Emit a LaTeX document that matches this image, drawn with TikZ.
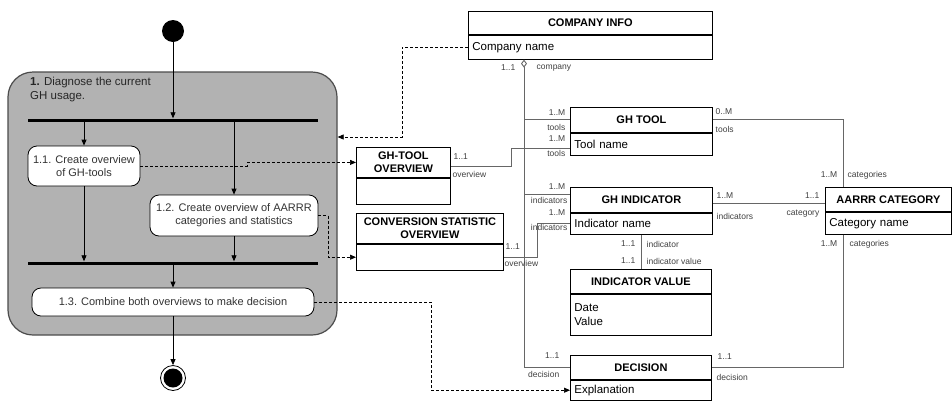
\documentclass[tikz,border=0pt]{standalone}
\usepackage{fontspec}
\setmainfont{Liberation Sans}
\usetikzlibrary{arrows.meta,positioning}

\begin{document}
\begin{tikzpicture}[x=1pt,y=-1pt,
  flow/.style={-{Triangle[length=6pt,width=5pt]}, line width=0.8pt},
  dep/.style={dash pattern=on 3pt off 2pt, -{Triangle[length=6pt,width=5pt]}, line width=0.7pt},
  er/.style={draw=black!60, line width=0.9pt},
  act/.style={draw, fill=white, rounded corners=9pt, align=center, inner sep=2pt, text=black!80, font=\fontsize{11}{13}\selectfont, line width=0.8pt},
  bar/.style={fill=black, inner sep=0pt, minimum width=290pt, minimum height=3pt},
  head/.style={draw, anchor=north west, align=center, inner sep=2pt, font=\bfseries\fontsize{11}{13}\selectfont, line width=0.8pt},
  body/.style={draw, align=left, inner sep=4pt, font=\fontsize{11.5}{14}\selectfont, line width=0.8pt},
  lab/.style={inner sep=0.5pt, text=black!75, font=\fontsize{8.5}{10}\selectfont}]
  \useasboundingbox (0,0) rectangle (952,400);

  \node[draw=black!70, fill=black!30, rounded corners=25pt, minimum width=329pt, minimum height=263pt, line width=1.2pt] (diag) at (172.5,203.5) {};
  \node[anchor=north west, align=left, inner sep=0pt, text=black!85, font=\fontsize{11.5}{14}\selectfont] (diagT) at (30,77) {\textbf{1.} Diagnose the current\\GH usage.};

  \node[circle, fill=black, minimum size=22pt, inner sep=0pt] (init) at (173,31) {};
  \node[bar] (fork) at (173,120) {};
  \node[act, minimum width=112pt, minimum height=40pt] (ovtools) at (84,166) {1.1. Create overview\\of GH-tools};
  \node[act, minimum width=168pt, minimum height=41pt] (ovstats) at (234,215.5) {1.2. Create overview of AARRR\\categories and statistics};
  \node[bar] (join) at (173,263) {};
  \node[act, minimum width=282pt, minimum height=28pt] (decide) at (173,302) {1.3. Combine both overviews to make decision};
  \node[circle, draw, fill=white, line width=0.8pt, minimum size=25pt, inner sep=0pt] (final) at (173,378) {};
  \node[circle, fill=black, minimum size=19pt, inner sep=0pt] (finalIn) at (final) {};

  \draw[flow] (init) -- (fork);
  \draw[flow] (ovtools.north |- fork.south) -- (ovtools.north);
  \draw[flow] (ovstats.north |- fork.south) -- (ovstats.north);
  \draw[flow] (ovtools.south) -- (ovtools.south |- join.north);
  \draw[flow] (ovstats.south) -- (ovstats.south |- join.north);
  \draw[flow] (join.south) -- (decide.north);
  \draw[flow] (decide.south) -- (final.north);

  \node[head, minimum width=244pt, minimum height=23pt] (companyH) at (468,11) {COMPANY INFO};
  \node[body, text width=236pt, minimum height=24pt, below=0pt of companyH] (companyA) {Company name};
  \node[head, minimum width=142pt, minimum height=25pt] (ghtoolH) at (570,107) {GH TOOL};
  \node[body, text width=134pt, minimum height=22pt, below=0pt of ghtoolH] (ghtoolA) {Tool name};
  \node[head, minimum width=142pt, minimum height=25pt] (indH) at (570,187) {GH INDICATOR};
  \node[body, text width=134pt, minimum height=21pt, below=0pt of indH] (indA) {Indicator name};
  \node[head, minimum width=126pt, minimum height=24pt] (aarrrH) at (825,187) {AARRR CATEGORY};
  \node[body, text width=118pt, minimum height=22pt, below=0pt of aarrrH] (aarrrA) {Category name};
  \node[head, minimum width=141pt, minimum height=24pt] (ivH) at (570,269) {INDICATOR VALUE};
  \node[body, text width=133pt, minimum height=41pt, below=0pt of ivH] (ivA) {Date\\Value};
  \node[head, minimum width=141pt, minimum height=24pt] (decisionH) at (570,355) {DECISION};
  \node[body, text width=133pt, minimum height=20pt, below=0pt of decisionH] (decisionA) {Explanation};
  \node[head, minimum width=94pt, minimum height=30pt] (ovtoolH) at (356,147) {GH-TOOL\\OVERVIEW};
  \node[body, text width=86pt, minimum height=26pt, below=0pt of ovtoolH] (ovtoolA) {};
  \node[head, minimum width=147pt, minimum height=30pt] (convH) at (356,213) {CONVERSION STATISTIC\\OVERVIEW};
  \node[body, text width=139pt, minimum height=26pt, below=0pt of convH] (convA) {};

  \coordinate (trunk) at (524,0);
  \draw[er, {Diamond[open,length=8pt,width=6pt]}-] (companyA.south -| trunk) |- (decisionH.west);
  \draw[er] (ghtoolH.west) -- (ghtoolH.west -| trunk);
  \draw[er] ([yshift=5.5pt]indH.west) -- ++(-46,0);
  \draw[er] ([yshift=-4pt]ovtoolH.east) -- ++(61,0) |- ([yshift=-4pt]ghtoolA.west);
  \draw[er] (convA.east) -- ++(34,0) |- (indA.west);
  \draw[er] (indA.south) -- (indA.south |- ivH.north);
  \draw[er] (ghtoolH.east) -| ([xshift=-45pt]aarrrH.north);
  \draw[er] ([yshift=-3.5pt]indH.east) -- ([yshift=-3.5pt]indH.east -| aarrrH.west);
  \draw[er] ([xshift=-45pt]aarrrA.south) |- (decisionH.east);

  \draw[dep] (companyA.west) -- ++(-66,0) |- ([yshift=66.5pt]diag.east);
  \draw[dep] (ovtools.east) -- ++(107,0) |- (ovtoolH.west);
  \draw[dep] (ovstats.east) -- ++(10,0) |- (convA.west);
  \draw[dep] (decide.east) -- ++(117,0) |- (decisionA.west);

  \node[lab, anchor=east] (cmpM) at (516,68) {1..1};
  \node[lab, anchor=west] (cmpR) at (536,68) {company};
  \node[lab, anchor=east] (toolM1) at (566,113) {1..M};
  \node[lab, anchor=east] (toolR1) at (566,127) {tools};
  \node[lab, anchor=east] (toolM2) at (566,139) {1..M};
  \node[lab, anchor=east] (toolR2) at (566,153) {tools};
  \node[lab, anchor=east] (indM1) at (566,187) {1..M};
  \node[lab, anchor=east] (indR1) at (568,200) {indicators};
  \node[lab, anchor=east] (indM2) at (566,213) {1..M};
  \node[lab, anchor=east] (indR2) at (568,227) {indicators};
  \node[lab, anchor=east] (ivM1) at (636,244) {1..1};
  \node[lab, anchor=west] (ivR1) at (646,244) {indicator};
  \node[lab, anchor=east] (ivM2) at (636,261) {1..1};
  \node[lab, anchor=west] (ivR2) at (646,261) {indicator value};
  \node[lab, anchor=west] (ovtM) at (453,157) {1..1};
  \node[lab, anchor=west] (ovtR) at (452,174) {overview};
  \node[lab, anchor=west] (convM) at (505,247) {1..1};
  \node[lab, anchor=west] (convR) at (504,263) {overview};
  \node[lab, anchor=east] (decM1) at (560,356) {1..1};
  \node[lab, anchor=east] (decR1) at (560,374) {decision};
  \node[lab, anchor=west] (decM2) at (717,357) {1..1};
  \node[lab, anchor=west] (decR2) at (716,377) {decision};
  \node[lab, anchor=west] (catM1) at (715,112) {0..M};
  \node[lab, anchor=west] (catR1) at (715,129) {tools};
  \node[lab, anchor=east] (catM2) at (838,175) {1..M};
  \node[lab, anchor=west] (catR2) at (847,175) {categories};
  \node[lab, anchor=west] (catM3) at (716,196) {1..M};
  \node[lab, anchor=west] (catR3) at (716,216) {indicators};
  \node[lab, anchor=east] (catM4) at (820,196) {1..1};
  \node[lab, anchor=east] (catR4) at (820,214) {category};
  \node[lab, anchor=east] (catM5) at (838,244) {1..M};
  \node[lab, anchor=west] (catR5) at (849,244) {categories};
\end{tikzpicture}
\end{document}
